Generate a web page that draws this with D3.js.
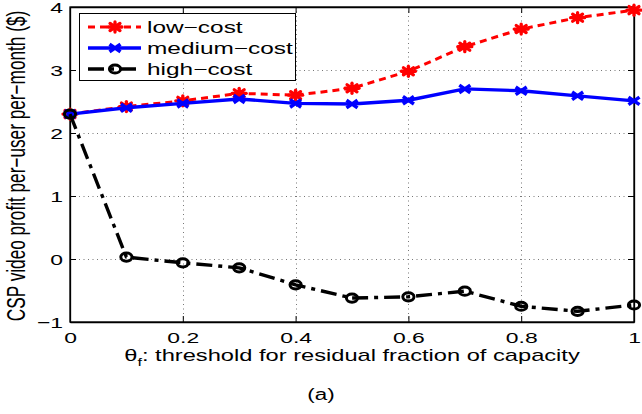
<!DOCTYPE html>
<html><head><meta charset="utf-8">
<script src="https://cdn.jsdelivr.net/npm/d3@7"></script>
<style>body{margin:0;background:#fff}svg{display:block}text{font-family:"Liberation Sans",Arial,sans-serif}</style>
</head><body>
<svg id="c" width="642" height="414"></svg>
<script>
const thresholds = [0,0.1,0.2,0.3,0.4,0.5,0.6,0.7,0.8,0.9,1.0];
const lowCost    = [2.30,2.42,2.51,2.63,2.60,2.71,2.98,3.37,3.65,3.83,3.95];
const mediumCost = [2.30,2.40,2.47,2.54,2.47,2.46,2.52,2.70,2.67,2.59,2.51];
const highCost   = [2.30,0.03,-0.06,-0.14,-0.41,-0.62,-0.60,-0.51,-0.75,-0.83,-0.73];
const seriesNames = ["low\u2212cost","medium\u2212cost","high\u2212cost"];
const xTicks = [0,0.2,0.4,0.6,0.8,1];
const yTicks = [-1,0,1,2,3,4];

const SX = 1.48; // horizontal stretch of original figure
const svg = d3.select("#c");
const L=70,R=634,T=7,B=322;
const x = d3.scaleLinear().domain([0,1]).range([L,R]);
const y = d3.scaleLinear().domain([-1,4]).range([B,T]);

// grid
const grid = svg.append("g").attr("stroke","#777").attr("stroke-width",1).attr("stroke-dasharray","1,3.5");
grid.selectAll(".gx").data(xTicks.slice(1,-1)).join("line")
  .attr("x1",d=>Math.round(x(d))+0.5).attr("x2",d=>Math.round(x(d))+0.5).attr("y1",T).attr("y2",B);
grid.selectAll(".gy").data(yTicks.slice(1,-1)).join("line")
  .attr("y1",d=>Math.round(y(d))+0.5).attr("y2",d=>Math.round(y(d))+0.5).attr("x1",L).attr("x2",R);

// axes
const fmt = d3.format("~g");
const ax = svg.append("g").attr("transform",`translate(0,${B})`)
  .call(d3.axisBottom(x).tickValues(xTicks).tickSizeInner(-6).tickSizeOuter(0).tickFormat(fmt));
ax.selectAll("text").attr("y",0).attr("dy",null)
  .attr("transform","translate(0,20.5) scale("+SX+",1)");
const axT = svg.append("g").attr("transform",`translate(0,${T})`)
  .call(d3.axisTop(x).tickValues(xTicks).tickSizeInner(-6).tickSizeOuter(0).tickFormat(""));
const ay = svg.append("g").attr("transform",`translate(${L},0)`)
  .call(d3.axisLeft(y).tickValues(yTicks).tickSizeInner(-6).tickSizeOuter(0).tickFormat(fmt));
ay.selectAll("text").attr("x",0).attr("dy","0.36em")
  .attr("transform","translate(-7,0) scale("+SX+",1)");
const ayR = svg.append("g").attr("transform",`translate(${R},0)`)
  .call(d3.axisRight(y).tickValues(yTicks).tickSizeInner(-6).tickSizeOuter(0).tickFormat(""));
[ax,axT,ay,ayR].forEach(g=>{
  g.select(".domain").attr("stroke","#000").attr("stroke-width",1.3);
  g.selectAll(".tick line").attr("stroke","#000").attr("stroke-width",1);
  g.selectAll("text").attr("font-size",15.5).attr("fill","#000")
   .attr("font-family","'Liberation Sans',Arial,sans-serif");
});
svg.append("rect").attr("x",L).attr("y",T).attr("width",R-L).attr("height",B-T)
  .attr("fill","none").attr("stroke","#000").attr("stroke-width",1.3);

// series
const styles = [
  {vals:lowCost,color:"#ff0000",dash:"7,5",marker:"star",w:3},
  {vals:mediumCost,color:"#0000ff",dash:null,marker:"x",w:3.4},
  {vals:highCost,color:"#000000",dash:"16,6,4,6",marker:"o",w:3.4}
];
const line = d3.line().x((d,i)=>x(thresholds[i])).y(d=>y(d));

function drawMarker(g,type,color){
  if(type==="star"){
    const a=7, b=5;
    [0,45,90,135].forEach(deg=>{
      const rad=deg*Math.PI/180;
      g.append("line").attr("x1",-a*Math.cos(rad)).attr("y1",-b*Math.sin(rad))
       .attr("x2",a*Math.cos(rad)).attr("y2",b*Math.sin(rad))
       .attr("stroke",color).attr("stroke-width",3.3).attr("stroke-linecap","round");
    });
    g.append("ellipse").attr("rx",4.5).attr("ry",3.6).attr("fill",color);
  } else if(type==="x"){
    const a=5.5, b=3.8;
    g.append("line").attr("x1",-a).attr("y1",-b).attr("x2",a).attr("y2",b).attr("stroke",color).attr("stroke-width",3.5);
    g.append("line").attr("x1",-a).attr("y1",b).attr("x2",a).attr("y2",-b).attr("stroke",color).attr("stroke-width",3.5);
  } else {
    g.append("ellipse").attr("rx",5.6).attr("ry",4.1).attr("fill","none").attr("stroke",color).attr("stroke-width",3);
  }
}

styles.forEach(s=>{
  svg.append("path").datum(s.vals).attr("d",line).attr("fill","none")
    .attr("stroke",s.color).attr("stroke-width",s.w).attr("stroke-dasharray",s.dash)
    .attr("stroke-linejoin","round");
  s.vals.forEach((v,i)=>{
    const g = svg.append("g").attr("transform",`translate(${x(thresholds[i])},${y(v)})`);
    drawMarker(g,s.marker,s.color);
  });
});

// legend
const lg = svg.append("g");
lg.append("rect").attr("x",79.5).attr("y",13.5).attr("width",216).attr("height",67)
  .attr("fill","#fff").attr("stroke","#000").attr("stroke-width",1);
const ly = [27,48,69];
styles.forEach((s,i)=>{
  lg.append("line").attr("x1",88).attr("x2",141).attr("y1",ly[i]).attr("y2",ly[i])
    .attr("stroke",s.color).attr("stroke-width",s.w).attr("stroke-dasharray",s.dash);
  const g = lg.append("g").attr("transform",`translate(115,${ly[i]})`);
  drawMarker(g,s.marker,s.color);
  lg.append("text").attr("transform",`translate(147,${ly[i]}) scale(${SX},1)`)
    .attr("dy","0.36em").attr("font-size",16.5)
    .text(seriesNames[i]);
});

// axis titles
const xt = svg.append("text").attr("transform",`translate(${(L+R)/2},361) scale(${SX},1)`)
  .attr("text-anchor","middle").attr("font-size",16);
xt.append("tspan").text("\u03b8");
xt.append("tspan").attr("font-size",11).attr("dy",5).text("f");
xt.append("tspan").attr("dy",-5).text(": threshold for residual fraction of capacity");

svg.append("text").attr("transform",`translate(25,166) scale(${SX},1) rotate(-90)`)
  .attr("text-anchor","middle").attr("font-size",17.2)
  .text("CSP video profit per\u2212user per\u2212month ($)");

svg.append("text").attr("transform",`translate(321,400) scale(1.4,1)`)
  .attr("text-anchor","middle").attr("font-size",16).attr("font-family","'Liberation Serif','Times New Roman',serif")
  .text("(a)");
</script>
</body></html>
